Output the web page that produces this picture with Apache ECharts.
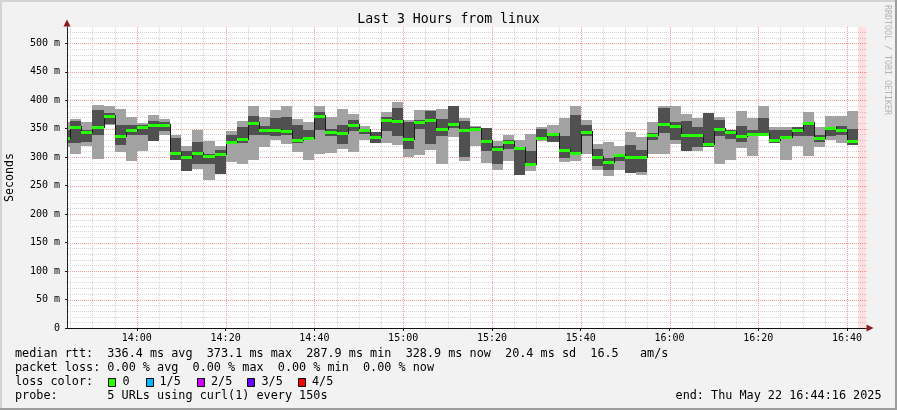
<!DOCTYPE html>
<html><head><meta charset="utf-8">
<script src="https://cdn.jsdelivr.net/npm/echarts@6/dist/echarts.min.js"></script>
<style>html,body{margin:0;padding:0;background:#f2f2f2}#c{width:897px;height:410px}</style>
</head><body><div id="c"></div><script>
// ---------------- data ----------------
const chartTitle = 'Last 3 Hours from linux';
const yAxisName = 'Seconds';
const watermark = 'RRDTOOL / TOBI OETIKER';
const viewStart = '13:44:16';
const viewEnd = '16:44:16';
const firstStepStart = '13:42:30';
const stepSeconds = 150;
// five sorted pings per step (ms): lowest, 2nd, median, 4th, highest
const pingMin = [317.2,305.5,319.0,297.3,355.9,308.4,292.6,311.4,327.8,338.3,295.6,275.1,279.8,259.3,270.4,290.9,288.5,294.4,317.2,330.7,323.1,309.0,295.6,305.5,307.3,314.9,308.4,330.0,324.8,324.8,320.7,299.7,304.3,313.1,288.5,334.8,292.6,319.7,289.7,278.0,292.6,269.2,275.1,327.8,326.0,290.9,292.6,306.1,276.8,266.3,278.0,272.1,268.1,305.5,305.5,323.1,310.2,310.2,317.8,288.0,294.4,315.5,301.4,338.3,324.8,294.4,319.0,301.4,317.2,330.7,324.8,321.9];
const ping2nd = [324.8,324.8,326.6,338.3,358.0,321.9,338.3,339.5,328.9,345.3,295.6,275.1,288.5,288.5,270.4,324.8,324.8,338.3,339.5,336.5,339.5,324.8,329.5,348.3,336.5,323.7,345.3,340.0,324.8,346.5,336.5,314.9,350.0,323.1,336.5,351.2,300.2,346.5,310.2,288.5,314.3,269.2,283.9,330.7,326.6,298.5,303.2,336.5,285.0,276.8,292.6,272.1,273.3,329.5,341.8,329.5,310.2,317.8,317.8,336.5,331.9,326.0,337.7,338.9,324.8,331.9,336.5,336.5,326.0,336.5,339.5,321.9];
const median = [333.6,352.3,343.6,352.3,373.1,336.5,348.3,352.9,357.0,357.0,307.3,299.7,307.3,301.4,306.1,326.6,331.9,360.0,347.1,348.3,345.9,329.5,333.6,372.5,344.7,341.8,355.9,347.7,335.4,365.8,362.9,332.4,361.1,365.8,350.0,358.2,347.7,349.4,328.9,314.9,326.0,315.5,288.0,333.6,341.2,312.5,307.3,343.6,300.2,291.5,303.8,300.8,299.7,338.9,358.8,355.3,338.9,338.9,323.7,349.4,344.7,336.5,340.6,340.6,330.1,335.4,347.1,359.4,334.2,350.6,347.1,328.9];
const ping4th = [348.3,362.9,348.3,383.4,377.0,355.9,357.0,357.0,364.1,361.7,333.6,311.4,326.0,306.1,313.1,339.5,352.3,371.7,354.1,368.7,369.9,355.9,348.3,379.3,349.4,355.9,364.6,349.0,343.6,369.9,386.3,361.1,364.6,381.6,367.0,390.4,364.1,352.9,351.2,319.0,330.7,317.8,311.4,349.4,342.4,336.5,374.6,357.0,314.9,298.5,306.1,321.9,313.1,342.4,386.3,361.7,364.1,353.5,377.5,365.8,348.3,355.3,348.3,369.3,348.3,348.3,352.9,362.3,339.5,352.9,355.3,349.4];
const pingMax = [361.7,367.6,361.7,392.2,390.4,385.1,371.1,359.4,374.6,367.6,339.5,319.7,347.1,327.8,319.0,346.5,364.1,389.2,369.9,383.4,389.2,367.6,361.7,389.2,370.5,385.1,376.4,355.3,343.6,379.3,396.3,365.8,383.4,383.4,385.1,390.4,368.7,355.3,351.2,327.8,339.5,330.7,340.6,352.3,357.0,368.7,389.2,365.8,323.7,326.0,319.0,344.2,335.4,361.7,389.2,389.2,376.4,369.3,377.5,370.5,348.3,381.6,369.3,390.4,352.9,352.9,352.9,379.9,352.9,372.8,371.7,381.6];
const xTickLabels = ['14:00','14:20','14:40','15:00','15:20','15:40','16:00','16:20','16:40'];
const yMax = 528.6;
const legendLines = [
  'median rtt:  336.4 ms avg  373.1 ms max  287.9 ms min  328.9 ms now  20.4 ms sd  16.5   am/s',
  'packet loss: 0.00 % avg  0.00 % max  0.00 % min  0.00 % now',
  'loss color:',
  'probe:       5 URLs using curl(1) every 150s'
];
const lossLabels = ['0','1/5','2/5','3/5','4/5'];
const lossColors = ['#26ff00','#00b8ff','#d400ff','#6a00ff','#ff0000'];
const endText = 'end: Thu May 22 16:44:16 2025';

// ---------------- build ----------------
const toMin = s => { const p = s.split(':').map(Number); return p[0]*60 + p[1] + (p[2]||0)/60; };
const xMin = toMin(viewStart), xMax = toMin(viewEnd);
const stepMin = stepSeconds/60;
const t0 = toMin(firstStepStart);
const smokeData = median.map((m,i) => [t0+i*stepMin, t0+(i+1)*stepMin, pingMin[i], ping2nd[i], m, ping4th[i], pingMax[i], i>0 ? median[i-1] : m]);
const dataEnd = t0 + median.length*stepMin;
const xTickValues = xTickLabels.map(toMin);
const minorV = [], majorV = [], minorH = [], majorH = [];
for (let m = Math.ceil(xMin/5)*5; m < xMax; m += 5) (m % 20 === 0 ? majorV : minorV).push([m, 0]);
for (let v = 10; v < yMax; v += 10) (v % 50 === 0 ? majorH : minorH).push([xMin, v]);

const MONO = '"DejaVu Sans Mono", monospace';
const fmtTime = v => { const h = Math.floor(Math.round(v)/60), m = Math.round(v)%60; return String(h).padStart(2,'0')+':'+String(m).padStart(2,'0'); };
const GRID_MINOR = '#d4d4d4', GRID_MAJOR = '#f49c9c';

function renderSmoke(params, api) {
  const cs = params.coordSys;
  const box = {x: cs.x+1, y: cs.y, width: cs.width-1, height: cs.height};
  const xa = Math.round(api.coord([api.value(0), 0])[0]);
  const xb = Math.round(api.coord([api.value(1), 0])[0]);
  const Y = v => Math.round(api.coord([api.value(0), v])[1]);
  const kids = [];
  const addRect = (top, bottom, color) => {
    const r = echarts.graphic.clipRectByRect({x: xa, y: top, width: xb-xa, height: bottom-top}, box);
    if (r && r.height > 0 && r.width > 0) kids.push({type:'rect', shape:r, style:{fill:color}});
  };
  addRect(Y(api.value(6)), Y(api.value(2)), '#a2a2a2');
  addRect(Y(api.value(5)), Y(api.value(3)), '#505050');
  if (params.dataIndex > 0) {
    const y1 = Y(api.value(7)), y2 = Y(api.value(4));
    kids.push({type:'line', shape:{x1:xa+0.5, y1:Math.min(y1,y2)-1, x2:xa+0.5, y2:Math.max(y1,y2)+1}, style:{stroke:'#1a1a1a', lineWidth:1}});
  }
  const ym = Y(api.value(4));
  addRect(ym-1, ym+2, lossColors[0]);
  return {type:'group', children:kids};
}
function vLine(color) {
  return (params, api) => {
    const cs = params.coordSys;
    const x = Math.round(api.coord([api.value(0), 0])[0]) + 0.5;
    return {type:'line', shape:{x1:x, y1:cs.y, x2:x, y2:cs.y+cs.height}, style:{stroke:color, lineWidth:1, lineDash:[1,1]}};
  };
}
function hLine(color) {
  return (params, api) => {
    const cs = params.coordSys;
    const y = Math.round(api.coord([xMin, api.value(1)])[1]) + 0.5;
    return {type:'line', shape:{x1:cs.x+1, y1:y, x2:cs.x+cs.width+2, y2:y}, style:{stroke:color, lineWidth:1, lineDash:[1,1]}};
  };
}
function renderPink(params, api) {
  const cs = params.coordSys;
  const xa = Math.round(api.coord([api.value(0), 0])[0]);
  const xb = Math.round(api.coord([api.value(1), 0])[0]);
  return {type:'rect', shape:{x:xa, y:cs.y, width:xb-xa, height:cs.height}, style:{fill:'rgba(255,40,40,0.15)'}};
}

const chart = echarts.init(document.getElementById('c'), null, {renderer:'canvas'});
const graphic = [
  {type:'rect', shape:{x:0,y:0,width:897,height:2}, style:{fill:'#d4d4d4'}},
  {type:'rect', shape:{x:0,y:0,width:2,height:410}, style:{fill:'#d4d4d4'}},
  {type:'rect', shape:{x:0,y:408,width:897,height:2}, style:{fill:'#9c9c9c'}},
  {type:'rect', shape:{x:895,y:0,width:2,height:410}, style:{fill:'#9c9c9c'}},
  {type:'text', x:448.5, y:20, style:{text:chartTitle, font:'13.2px '+MONO, fill:'#000', align:'center', verticalAlign:'middle'}},
  {type:'text', x:887, y:60, rotation:-Math.PI/2, style:{text:watermark, font:'8.3px '+MONO, fill:'#b4b4b4', align:'center', verticalAlign:'middle'}},
  {type:'text', x:881.5, y:396, style:{text:endText, font:'11.8px '+MONO, fill:'#000', align:'right', verticalAlign:'middle'}}
];
const rowY = [354.3, 368.3, 382.3, 396];
legendLines.forEach((t,i) => graphic.push({type:'text', x:15, y:rowY[i], style:{text:t, font:'11.8px '+MONO, fill:'#000', verticalAlign:'middle'}}));
const sqX = [108, 146, 197, 247, 298];
const lbX = [122.5, 159.5, 211, 261.5, 312];
lossLabels.forEach((t,i) => {
  graphic.push({type:'rect', shape:{x:sqX[i]+0.5, y:378.5, width:7, height:8}, style:{fill:lossColors[i], stroke:'#000', lineWidth:1}});
  graphic.push({type:'text', x:lbX[i], y:rowY[2], style:{text:t, font:'11.8px '+MONO, fill:'#000', verticalAlign:'middle'}});
});

const baseY = {type:'value', min:0, max:yMax, position:'left'};
chart.setOption({
  animation:false,
  backgroundColor:'#f2f2f2',
  grid:{left:67, right:31, top:27, bottom:82, show:true, backgroundColor:'#ffffff', borderWidth:0, outerBoundsMode:'none'},
  xAxis:[
    {type:'value', min:xMin, max:xMax, position:'bottom',
     axisLine:{show:true, lineStyle:{color:'#8e1b1b', width:1}, symbol:['none','triangle'], symbolSize:[7,7], symbolOffset:[0,4]},
     axisTick:{show:false}, axisLabel:{show:false}, splitLine:{show:false}},
    {type:'value', min:xMin, max:xMax, position:'bottom',
     axisLine:{show:true, lineStyle:{color:'#111', width:1}},
     axisTick:{show:true, customValues:xTickValues, length:3, lineStyle:{color:'#111'}},
     axisLabel:{show:true, customValues:xTickValues, formatter:fmtTime, margin:5, color:'#000', fontFamily:MONO, fontSize:10},
     splitLine:{show:false}}
  ],
  yAxis:[
    Object.assign({}, baseY, {interval:50,
      axisLine:{show:true, lineStyle:{color:'#8e1b1b', width:1}, symbol:['none','triangle'], symbolSize:[7,7], symbolOffset:[0,4]},
      axisTick:{show:false}, axisLabel:{show:false}, splitLine:{show:false}}),
    Object.assign({}, baseY, {interval:50,
      name:yAxisName, nameLocation:'middle', nameGap:51,
      nameTextStyle:{fontFamily:MONO, fontSize:11.6, color:'#000'},
      axisLine:{show:true, lineStyle:{color:'#222', width:1}},
      axisTick:{show:true, length:2, lineStyle:{color:'#222'}},
      axisLabel:{show:true, showMaxLabel:false, margin:7, color:'#000', fontFamily:MONO, fontSize:10,
        formatter: v => v === 0 ? '0' : (v % 50 === 0 ? v + ' m' : '')},
      splitLine:{show:false}})
  ],
  series:[
    {type:'custom', name:'minor v grid', xAxisIndex:1, yAxisIndex:1, z:1, silent:true, renderItem:vLine(GRID_MINOR), data:minorV, encode:{x:0,y:1}},
    {type:'custom', name:'minor h grid', xAxisIndex:1, yAxisIndex:1, z:1, silent:true, renderItem:hLine(GRID_MINOR), data:minorH, encode:{x:0,y:1}},
    {type:'custom', name:'major v grid', xAxisIndex:1, yAxisIndex:1, z:1, silent:true, renderItem:vLine(GRID_MAJOR), data:majorV, encode:{x:0,y:1}},
    {type:'custom', name:'major h grid', xAxisIndex:1, yAxisIndex:1, z:1, silent:true, renderItem:hLine(GRID_MAJOR), data:majorH, encode:{x:0,y:1}},
    {type:'custom', name:'unknown', xAxisIndex:1, yAxisIndex:1, z:2, silent:true, renderItem:renderPink, data:[[dataEnd, xMax]], encode:{x:[0,1]}},
    {type:'custom', name:'smoke', xAxisIndex:1, yAxisIndex:1, z:3, silent:true, renderItem:renderSmoke, data:smokeData, encode:{x:[0,1], y:[2,6]}}
  ],
  graphic:graphic
});
</script></body></html>
